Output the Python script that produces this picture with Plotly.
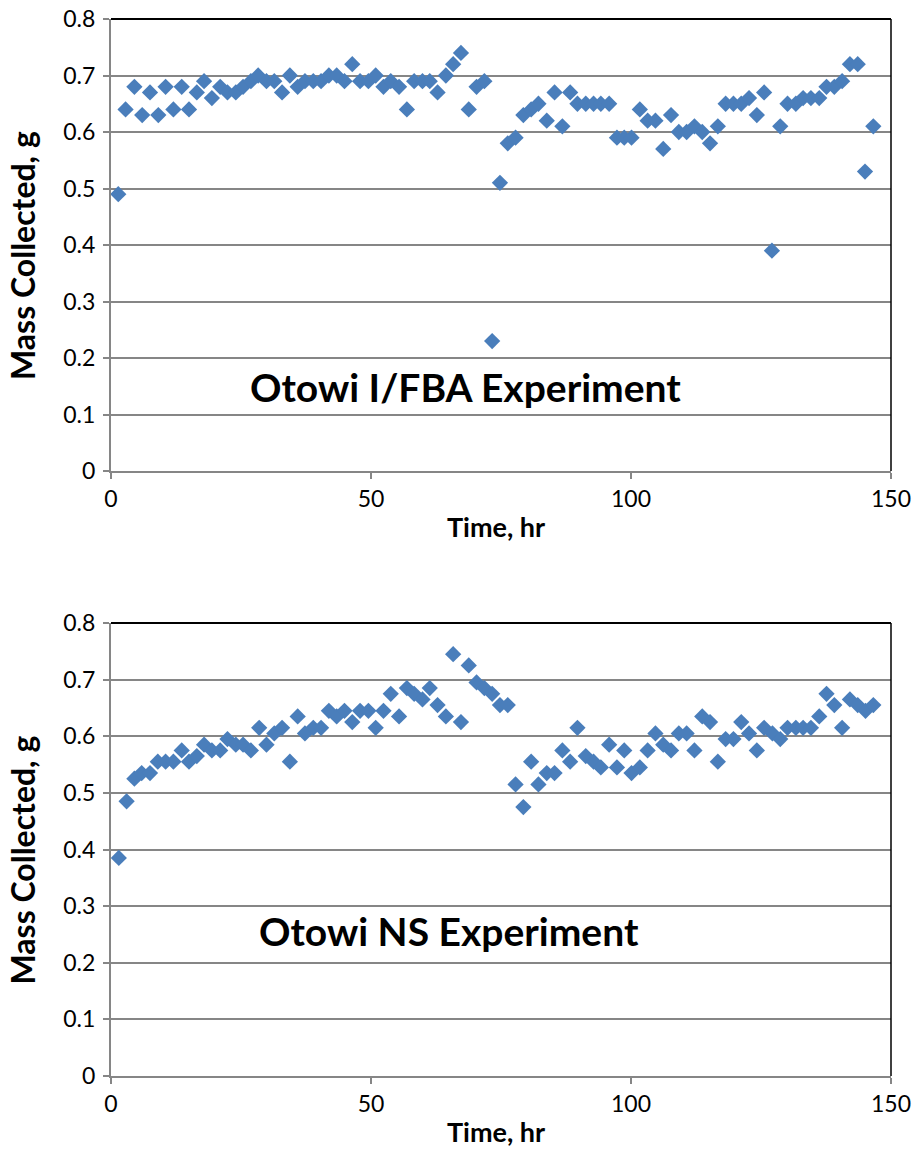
import plotly.graph_objects as go

# Elapsed time of each collection, hours
time_ifba = [1.4, 2.8, 4.5, 6.0, 7.5, 9.1, 10.5, 12.0, 13.6, 15.0, 16.5, 17.9, 19.4, 21.0,
             22.4, 24.0, 25.4, 26.9, 28.3, 29.9, 31.4, 32.9, 34.4, 35.9, 37.3, 38.9, 40.4,
             41.9, 43.4, 44.9, 46.4, 47.9, 49.5, 50.9, 52.4, 53.8, 55.4, 56.9, 58.3, 59.9,
             61.3, 62.8, 64.4, 65.8, 67.3, 68.8, 70.3, 71.8, 73.3, 74.8, 76.3, 77.8, 79.3,
             80.8, 82.2, 83.8, 85.3, 86.8, 88.3, 89.7, 91.3, 92.8, 94.2, 95.8, 97.3, 98.7,
             100.1, 101.7, 103.2, 104.7, 106.2, 107.7, 109.2, 110.7, 112.2, 113.7, 115.2,
             116.7, 118.2, 119.7, 121.2, 122.7, 124.2, 125.6, 127.1, 128.7, 130.1, 131.7,
             133.1, 134.6, 136.2, 137.6, 139.1, 140.6, 142.1, 143.6, 145.0, 146.6]

# Mass collected per sample, grams (I/FBA run)
mass_ifba = [0.49, 0.64, 0.68, 0.63, 0.67, 0.63, 0.68, 0.64, 0.68, 0.64, 0.67, 0.69, 0.66, 0.68,
             0.67, 0.67, 0.68, 0.69, 0.70, 0.69, 0.69, 0.67, 0.70, 0.68, 0.69, 0.69, 0.69,
             0.70, 0.70, 0.69, 0.72, 0.69, 0.69, 0.70, 0.68, 0.69, 0.68, 0.64, 0.69, 0.69,
             0.69, 0.67, 0.70, 0.72, 0.74, 0.64, 0.68, 0.69, 0.23, 0.51, 0.58, 0.59, 0.63,
             0.64, 0.65, 0.62, 0.67, 0.61, 0.67, 0.65, 0.65, 0.65, 0.65, 0.65, 0.59, 0.59,
             0.59, 0.64, 0.62, 0.62, 0.57, 0.63, 0.60, 0.60, 0.61, 0.60, 0.58,
             0.61, 0.65, 0.65, 0.65, 0.66, 0.63, 0.67, 0.39, 0.61, 0.65, 0.65,
             0.66, 0.66, 0.66, 0.68, 0.68, 0.69, 0.72, 0.72, 0.53, 0.61]

time_ns = [1.5, 3.0, 4.5, 5.9, 7.5, 9.0, 10.5, 12.0, 13.6, 15.0, 16.5, 17.9, 19.4, 21.0,
           22.4, 24.0, 25.4, 26.9, 28.5, 29.9, 31.4, 32.9, 34.4, 35.9, 37.3, 38.9, 40.4,
           41.9, 43.4, 44.9, 46.4, 47.9, 49.5, 50.9, 52.4, 53.8, 55.4, 56.9, 58.3, 59.9,
           61.3, 62.8, 64.4, 65.8, 67.3, 68.8, 70.3, 71.8, 73.3, 74.8, 76.3, 77.8, 79.3,
           80.8, 82.2, 83.8, 85.3, 86.8, 88.3, 89.7, 91.3, 92.8, 94.2, 95.8, 97.3, 98.7,
           100.1, 101.7, 103.2, 104.7, 106.2, 107.7, 109.2, 110.7, 112.2, 113.7, 115.2,
           116.7, 118.2, 119.7, 121.2, 122.7, 124.2, 125.6, 127.2, 128.7, 130.1, 131.7,
           133.1, 134.6, 136.2, 137.6, 139.1, 140.6, 142.1, 143.6, 145.1, 146.6]

# Mass collected per sample, grams (NS run)
mass_ns = [0.385, 0.485, 0.525, 0.535, 0.535, 0.555, 0.555, 0.555, 0.575, 0.555, 0.565, 0.585,
           0.575, 0.575, 0.595, 0.585, 0.585, 0.575, 0.615, 0.585, 0.605, 0.615, 0.555, 0.635,
           0.605, 0.615, 0.615, 0.645, 0.635, 0.645, 0.625, 0.645, 0.645, 0.615, 0.645, 0.675,
           0.635, 0.685, 0.675, 0.665, 0.685, 0.655, 0.635, 0.745, 0.625, 0.725, 0.695, 0.685,
           0.675, 0.655, 0.655, 0.515, 0.475, 0.555, 0.515, 0.535, 0.535, 0.575, 0.555, 0.615,
           0.565, 0.555, 0.545, 0.585, 0.545, 0.575, 0.535, 0.545, 0.575, 0.605, 0.585, 0.575,
           0.605, 0.605, 0.575, 0.635, 0.625, 0.555, 0.595, 0.595, 0.625, 0.605, 0.575, 0.615,
           0.605, 0.595, 0.615, 0.615, 0.615, 0.615, 0.635, 0.675, 0.655, 0.615, 0.665, 0.655,
           0.645, 0.655]

y_ticks = [0, 0.1, 0.2, 0.3, 0.4, 0.5, 0.6, 0.7, 0.8]
y_tick_text = ["0", "0.1", "0.2", "0.3", "0.4", "0.5", "0.6", "0.7", "0.8"]
x_ticks = [0, 50, 100, 150]
x_tick_text = ["0", "50", "100", "150"]

W, H = 913, 1151
FONT = "Lato"
MARKER_BLUE = "#4a7ebb"
GRID = "#868686"

# Plot-area pixel boxes: (left, right, top, bottom)
boxes = [(111, 891, 19, 471), (111, 891, 623, 1076)]


def px_x(p):
    return p / W


def px_y(p):
    return 1 - p / H


fig = go.Figure()

panels = [
    (time_ifba, mass_ifba, "Otowi I/FBA Experiment", (0.454, 0.186)),
    (time_ns, mass_ns, "Otowi NS Experiment", (0.433, 0.32)),
]

annotations = []
shapes = []
for i, ((t, m, label, pos), (l, r, top, bot)) in enumerate(zip(panels, boxes), start=1):
    xa = "x" if i == 1 else f"x{i}"
    ya = "y" if i == 1 else f"y{i}"
    fig.add_trace(go.Scatter(
        x=t, y=m, mode="markers", xaxis=xa, yaxis=ya, showlegend=False,
        marker=dict(symbol="diamond", size=12.5, color=MARKER_BLUE, line=dict(width=0)),
    ))
    key = "" if i == 1 else str(i)
    fig.update_layout(**{
        f"xaxis{key}": dict(
            domain=[px_x(l), px_x(r)], anchor=ya, range=[0, 150],
            tickvals=x_ticks, ticktext=x_tick_text, showgrid=False, zeroline=False,
            showline=True, linecolor=GRID, linewidth=2, ticks="outside", ticklen=6,
            tickwidth=1.5, tickcolor=GRID, automargin=False,
            tickfont=dict(family=FONT, size=23, color="#000000"),
        ),
        f"yaxis{key}": dict(
            domain=[px_y(bot), px_y(top)], anchor=xa, range=[0, 0.8],
            tickvals=y_ticks, ticktext=y_tick_text, showgrid=True, gridcolor=GRID,
            gridwidth=1.5, zeroline=False, showline=True, linecolor=GRID, linewidth=2,
            ticks="outside", ticklen=6, tickwidth=1.5, tickcolor=GRID, automargin=False,
            ticklabelstandoff=3,
            tickfont=dict(family=FONT, size=23, color="#000000"),
        ),
    })
    # black frame along the top and right of the plot area
    shapes.append(dict(type="line", xref=f"{xa} domain", yref=f"{ya} domain",
                       x0=0, x1=1, y0=1, y1=1, line=dict(color="#000000", width=2)))
    shapes.append(dict(type="line", xref=f"{xa} domain", yref=f"{ya} domain",
                       x0=1, x1=1, y0=0, y1=1, line=dict(color="#000000", width=1.5)))
    # panel label inside the plot
    annotations.append(dict(
        text=f"<b>{label}</b>", xref=f"{xa} domain", yref=f"{ya} domain",
        x=pos[0], y=pos[1], showarrow=False, xanchor="center", yanchor="middle",
        font=dict(family=FONT, size=39, color="#000000"),
    ))
    # axis titles
    annotations.append(dict(
        text="<b>Time, hr</b>", xref="paper", yref="paper",
        x=px_x((l + r) / 2 - 5), y=px_y(bot + 55), showarrow=False,
        xanchor="center", yanchor="middle",
        font=dict(family=FONT, size=27, color="#000000"),
    ))
    annotations.append(dict(
        text="<b>Mass Collected, g</b>", xref="paper", yref="paper",
        x=px_x(22), y=px_y((top + bot) / 2 + 11), showarrow=False, textangle=-90,
        xanchor="center", yanchor="middle",
        font=dict(family=FONT, size=32, color="#000000"),
    ))

fig.update_layout(
    width=W, height=H, margin=dict(l=0, r=0, t=0, b=0),
    paper_bgcolor="#ffffff", plot_bgcolor="#ffffff", template="none",
    annotations=annotations, shapes=shapes,
)

fig.write_html("out.html")
